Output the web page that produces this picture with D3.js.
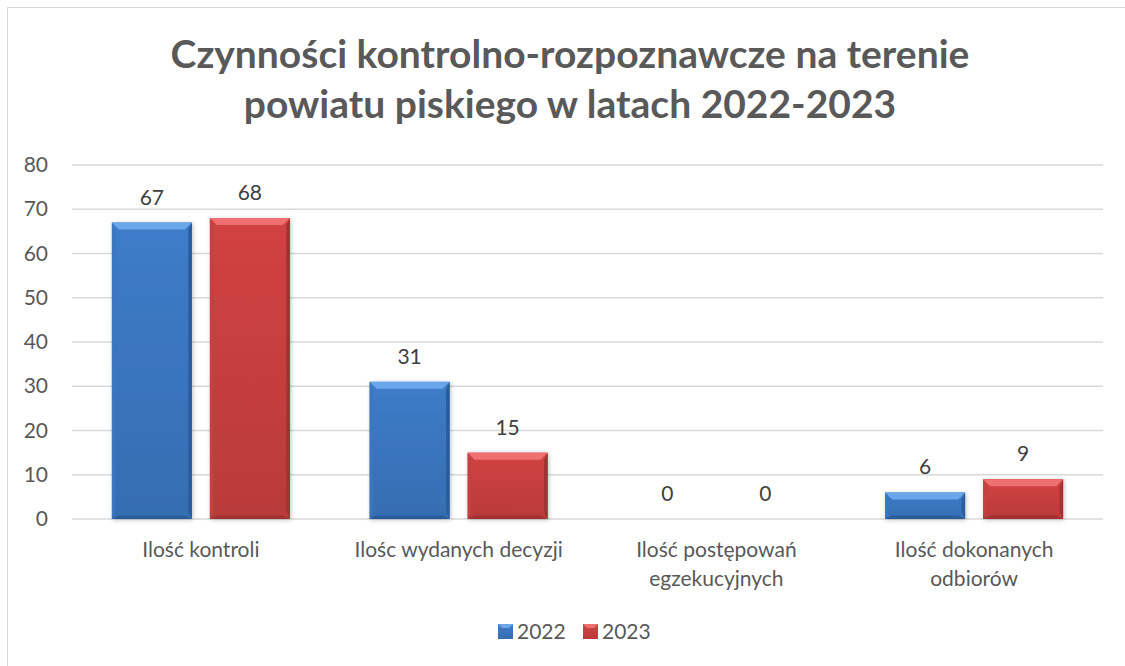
<!DOCTYPE html>
<html>
<head>
<meta charset="utf-8">
<script src="https://cdn.jsdelivr.net/npm/d3@7"></script>
<style>
  body { margin: 0; background: #fff; }
  text { font-family: Lato, "Open Sans", sans-serif; }
</style>
</head>
<body>
<svg width="1125" height="666"></svg>
<script>
// chart data
var categories = [["Ilość kontroli"], ["Ilośc wydanych decyzji"], ["Ilość postępowań", "egzekucyjnych"], ["Ilość dokonanych", "odbiorów"]];
var series = ["2022", "2023"];
var values2022 = [67, 31, 0, 6];
var values2023 = [68, 15, 0, 9];
var yTicks = [0, 10, 20, 30, 40, 50, 60, 70, 80];
var titleLines = ["Czynności kontrolno-rozpoznawcze na terenie", "powiatu piskiego w latach 2022-2023"];

var svg = d3.select("svg");
var plotLeft = 72, plotRight = 1103, plotTop = 165, plotBottom = 519;
var fontSize = 21;

// colours per series: light (top bevel), mid, dark (bottom/right)
var colors = {
    "2022": { light: "#6aa6ea", mid: "#3d7cc9", dark: "#2c5c9c" },
    "2023": { light: "#ee6f6f", mid: "#d24242", dark: "#a13030" }
};

// outer frame (cut at the right / bottom in the reference)
svg.append("rect")
    .attr("x", 7.5).attr("y", 7.5)
    .attr("width", 1140).attr("height", 700)
    .attr("fill", "#fff")
    .attr("stroke", "#d9d9d9");

var defs = svg.append("defs");
series.forEach(function(s) {
    var g = defs.append("linearGradient")
        .attr("id", "grad" + s)
        .attr("x1", 0).attr("y1", 0).attr("x2", 0).attr("y2", 1);
    g.append("stop").attr("offset", "0%").attr("stop-color", colors[s].mid);
    g.append("stop").attr("offset", "100%").attr("stop-color", d3.color(colors[s].mid).darker(0.35));
});
var shadow = defs.append("filter").attr("id", "shadow")
    .attr("x", "-20%").attr("y", "-20%").attr("width", "140%").attr("height", "140%");
shadow.append("feDropShadow")
    .attr("dx", 1).attr("dy", 1).attr("stdDeviation", 2)
    .attr("flood-color", "#000").attr("flood-opacity", 0.25);

// title
svg.append("g").selectAll("text")
    .data(titleLines)
    .enter().append("text")
    .attr("x", 570)
    .attr("y", function(d, i) { return 68 + i * 50; })
    .attr("text-anchor", "middle")
    .attr("font-size", 39)
    .attr("font-weight", "bold")
    .attr("fill", "#595959")
    .text(function(d) { return d; });

var x0 = d3.scaleBand()
    .domain(d3.range(categories.length))
    .range([plotLeft, plotRight]);

var x1 = d3.scaleBand()
    .domain(series)
    .range([0, x0.bandwidth()])
    .paddingInner(0.184)
    .paddingOuter(0.407);

var y = d3.scaleLinear()
    .domain([0, 80])
    .range([plotBottom, plotTop]);

// gridlines
svg.append("g").selectAll("line")
    .data(yTicks)
    .enter().append("line")
    .attr("x1", plotLeft).attr("x2", plotRight)
    .attr("y1", function(d) { return y(d); })
    .attr("y2", function(d) { return y(d); })
    .attr("stroke", "#d9d9d9")
    .attr("stroke-width", 1.3);

// y axis labels
var yAxis = d3.axisLeft(y).tickValues(yTicks).tickSize(0).tickPadding(0);
var yg = svg.append("g")
    .attr("transform", "translate(48,0)")
    .call(yAxis);
yg.select(".domain").remove();
yg.selectAll("text")
    .attr("font-size", fontSize)
    .attr("fill", "#595959")
    .attr("font-family", "Lato, 'Open Sans', sans-serif");

// bars
var rows = [];
categories.forEach(function(c, i) {
    rows.push({ cat: i, s: "2022", v: values2022[i] });
    rows.push({ cat: i, s: "2023", v: values2023[i] });
});

var bev = 7;
var bars = svg.append("g").selectAll("g")
    .data(rows.filter(function(d) { return d.v > 0; }))
    .enter().append("g")
    .attr("filter", "url(#shadow)");

bars.each(function(d) {
    var g = d3.select(this);
    var bx = x0(d.cat) + x1(d.s), bw = x1.bandwidth();
    var by = y(d.v), bh = y(0) - y(d.v);
    var b = Math.min(bev, bh / 2);
    var c = colors[d.s];
    g.append("rect")
        .attr("x", bx).attr("y", by).attr("width", bw).attr("height", bh)
        .attr("fill", "url(#grad" + d.s + ")");
    // top bevel
    g.append("polygon")
        .attr("points", [[bx, by], [bx + bw, by], [bx + bw - b, by + b], [bx + b, by + b]].join(" "))
        .attr("fill", c.light);
    // left bevel
    g.append("polygon")
        .attr("points", [[bx, by], [bx + b * 0.5, by + b], [bx + b * 0.5, by + bh - b], [bx, by + bh]].join(" "))
        .attr("fill", d3.color(c.mid).darker(0.15));
    // right bevel
    g.append("polygon")
        .attr("points", [[bx + bw, by], [bx + bw - b * 0.5, by + b], [bx + bw - b * 0.5, by + bh - b], [bx + bw, by + bh]].join(" "))
        .attr("fill", c.dark);
    // bottom bevel
    g.append("polygon")
        .attr("points", [[bx, by + bh], [bx + bw, by + bh], [bx + bw - b, by + bh - b * 0.5], [bx + b, by + bh - b * 0.5]].join(" "))
        .attr("fill", c.dark);
});

// data labels
svg.append("g").selectAll("text")
    .data(rows)
    .enter().append("text")
    .attr("x", function(d) { return x0(d.cat) + x1(d.s) + x1.bandwidth() / 2; })
    .attr("y", function(d) { return y(d.v) - 18; })
    .attr("text-anchor", "middle")
    .attr("font-size", fontSize)
    .attr("fill", "#404040")
    .text(function(d) { return d.v; });

// category labels
var cl = svg.append("g").selectAll("text")
    .data(categories)
    .enter().append("text")
    .attr("x", function(d, i) { return x0(i) + x0.bandwidth() / 2; })
    .attr("y", 557)
    .attr("text-anchor", "middle")
    .attr("font-size", fontSize)
    .attr("fill", "#595959");
cl.selectAll("tspan")
    .data(function(d) { return d; })
    .enter().append("tspan")
    .attr("x", function() { return d3.select(this.parentNode).attr("x"); })
    .attr("dy", function(d, i) { return i === 0 ? 0 : 29; })
    .text(function(d) { return d; });

// legend
var leg = svg.append("g").selectAll("g")
    .data(series)
    .enter().append("g")
    .attr("transform", function(d, i) { return "translate(" + (498 + i * 85) + ",624)"; });
leg.append("rect")
    .attr("width", 15).attr("height", 15)
    .attr("fill", function(d) { return "url(#grad" + d + ")"; });
leg.append("polygon")
    .attr("points", "0,0 15,0 11,4 4,4")
    .attr("fill", function(d) { return colors[d].light; });
leg.append("text")
    .attr("x", 19).attr("y", 15)
    .attr("font-size", fontSize)
    .attr("fill", "#595959")
    .text(function(d) { return d; });
</script>
</body>
</html>
